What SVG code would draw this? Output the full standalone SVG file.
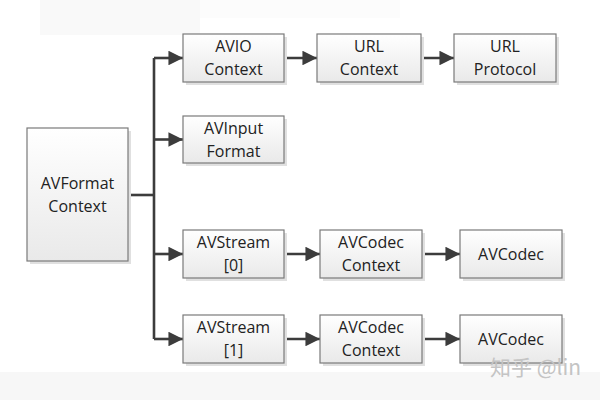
<svg xmlns="http://www.w3.org/2000/svg" width="600" height="400" viewBox="0 0 600 400">
<style>
.box{fill:url(#g);stroke:#7a7a7a;stroke-width:1.2}
.sh{fill:#e0e0e0}
.t{font-family:"Open Sans","Noto Sans",sans-serif;font-size:16px;fill:#222222;text-anchor:middle}
.c{fill:none;stroke:#3c3c3c;stroke-width:2.6}
.wm{font-family:"Noto Sans CJK SC","Noto Sans",sans-serif;font-size:21px;fill:#c4c4c4}
</style>
<defs>
<linearGradient id="g" x1="0" y1="0" x2="0" y2="1">
<stop offset="0" stop-color="#ffffff"/>
<stop offset="1" stop-color="#e9e9e9"/>
</linearGradient>
<marker id="a" viewBox="0 0 10 10" refX="10" refY="5" markerWidth="5.6" markerHeight="5.6" markerUnits="strokeWidth" orient="auto">
<path d="M0,0 L10,5 L0,10 Z" fill="#3c3c3c"/>
</marker>
</defs>
<rect width="600" height="400" fill="#ffffff"/>
<rect x="40" y="0" width="160" height="35" fill="#f9f9f9"/>
<rect x="200" y="0" width="200" height="18" fill="#fcfcfc"/>
<rect x="0" y="372" width="600" height="28" fill="#f7f7f7"/>

<g id="connectors">
<path class="c" d="M128,195 H154"/>
<path class="c" d="M154,58 V339"/>
<path class="c" d="M154,58 H183" marker-end="url(#a)"/>
<path class="c" d="M154,139.5 H183" marker-end="url(#a)"/>
<path class="c" d="M154,254 H183" marker-end="url(#a)"/>
<path class="c" d="M154,339 H183" marker-end="url(#a)"/>
<path class="c" d="M284,58 H317" marker-end="url(#a)"/>
<path class="c" d="M421,58 H454" marker-end="url(#a)"/>
<path class="c" d="M284,254 H320" marker-end="url(#a)"/>
<path class="c" d="M422,254 H460" marker-end="url(#a)"/>
<path class="c" d="M284,339 H320" marker-end="url(#a)"/>
<path class="c" d="M422,339 H460" marker-end="url(#a)"/>
</g>

<g id="avformat">
<rect class="sh" x="30" y="131" width="101" height="133"/>
<rect class="box" x="27" y="128" width="101" height="133"/>
<text class="t" x="77.5" y="189">AVFormat</text>
<text class="t" x="77.5" y="212">Context</text>
</g>
<g id="aviocontext">
<rect class="sh" x="186" y="37" width="101" height="48"/>
<rect class="box" x="183" y="34" width="101" height="48"/>
<text class="t" x="233.5" y="52">AVIO</text>
<text class="t" x="233.5" y="75">Context</text>
</g>
<g id="urlcontext">
<rect class="sh" x="320" y="37" width="104" height="48"/>
<rect class="box" x="317" y="34" width="104" height="48"/>
<text class="t" x="369" y="52">URL</text>
<text class="t" x="369" y="75">Context</text>
</g>
<g id="urlprotocol">
<rect class="sh" x="457" y="37" width="102" height="48"/>
<rect class="box" x="454" y="34" width="102" height="48"/>
<text class="t" x="505" y="52">URL</text>
<text class="t" x="505" y="75">Protocol</text>
</g>
<g id="avinputformat">
<rect class="sh" x="186" y="119" width="101" height="47"/>
<rect class="box" x="183" y="116" width="101" height="47"/>
<text class="t" x="233.5" y="134">AVInput</text>
<text class="t" x="233.5" y="157">Format</text>
</g>
<g id="avstream0">
<rect class="sh" x="186" y="233" width="101" height="48"/>
<rect class="box" x="183" y="230" width="101" height="48"/>
<text class="t" x="233.5" y="248">AVStream</text>
<text class="t" x="233.5" y="271">[0]</text>
</g>
<g id="avcodeccontext0">
<rect class="sh" x="323" y="233" width="102" height="48"/>
<rect class="box" x="320" y="230" width="102" height="48"/>
<text class="t" x="371" y="248">AVCodec</text>
<text class="t" x="371" y="271">Context</text>
</g>
<g id="avcodec0">
<rect class="sh" x="463" y="233" width="102" height="48"/>
<rect class="box" x="460" y="230" width="102" height="48"/>
<text class="t" x="511" y="259.5">AVCodec</text>
</g>
<g id="avstream1">
<rect class="sh" x="186" y="318" width="101" height="48"/>
<rect class="box" x="183" y="315" width="101" height="48"/>
<text class="t" x="233.5" y="333">AVStream</text>
<text class="t" x="233.5" y="356">[1]</text>
</g>
<g id="avcodeccontext1">
<rect class="sh" x="323" y="318" width="102" height="48"/>
<rect class="box" x="320" y="315" width="102" height="48"/>
<text class="t" x="371" y="333">AVCodec</text>
<text class="t" x="371" y="356">Context</text>
</g>
<g id="avcodec1">
<rect class="sh" x="463" y="318" width="102" height="48"/>
<rect class="box" x="460" y="315" width="102" height="48"/>
<text class="t" x="511" y="344.5">AVCodec</text>
</g>
<text class="wm" x="490" y="375">知乎 @lin</text>
</svg>
